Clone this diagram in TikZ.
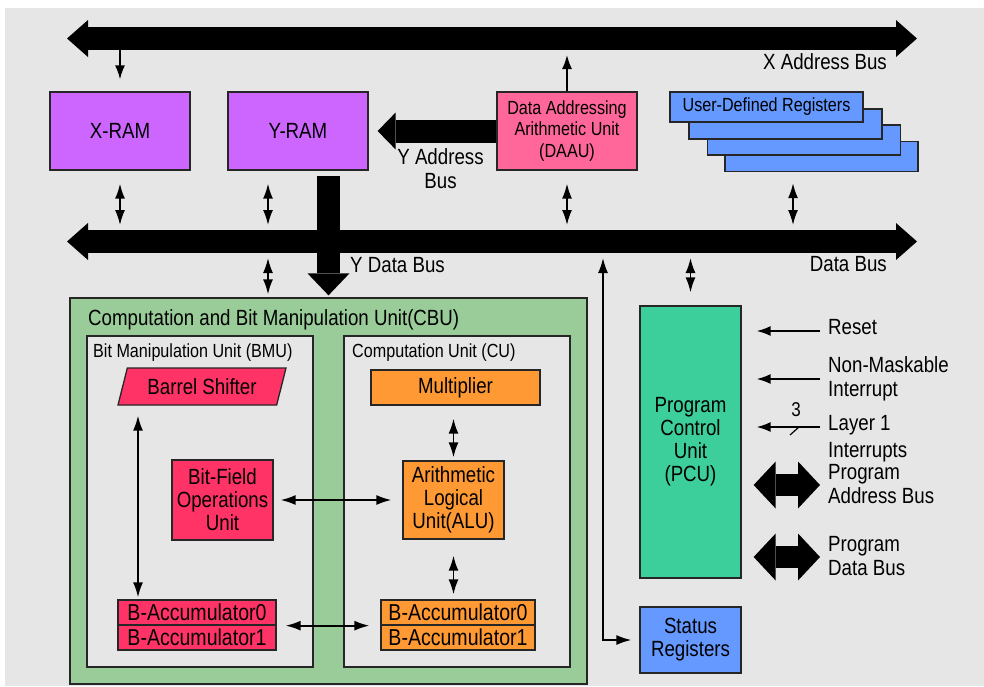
\documentclass[tikz,border=0pt]{standalone}
\usepackage{fontspec}
\setmainfont{Liberation Sans}[FakeStretch=0.85]
\usetikzlibrary{arrows.meta,shapes.geometric}

\definecolor{bgGray}{HTML}{E6E6E6}
\definecolor{ramViolet}{HTML}{CC66FF}
\definecolor{daauPink}{HTML}{FF6699}
\definecolor{regBlue}{HTML}{6699FF}
\definecolor{cbuGreen}{HTML}{99CC99}
\definecolor{bmuRed}{HTML}{FF3366}
\definecolor{cuOrange}{HTML}{FF9933}
\definecolor{pcuTeal}{HTML}{3CCF9C}

\tikzset{
    Unit/.style={
        draw=black!85,
        line width=1.3pt,
        align=center,
        inner sep=0pt,
        font=\fontsize{22}{23}\selectfont
    }
}
\tikzset{
    Bus/.style={
        line width=23pt,
        {Triangle[length=21pt,width=37pt,line width=0pt]}-{Triangle[length=21pt,width=37pt,line width=0pt]}
    },
    ProgBus/.style={
        line width=22pt,
        {Triangle[length=22pt,width=47pt,line width=0pt]}-{Triangle[length=22pt,width=47pt,line width=0pt]}
    },
    FatArrow/.style={
        line width=23pt,
        -{Triangle[length=22pt,width=42pt,line width=0pt]}
    }
}
\tikzset{
    Link/.style={line width=1.7pt, {Latex[length=15pt,width=10pt]}-{Latex[length=15pt,width=10pt]}},
    OneWay/.style={line width=1.7pt, -{Latex[length=14pt,width=10pt]}},
    Caption/.style={inner sep=0pt, align=left, font=\fontsize{22}{24}\selectfont}
}
\newcommand{\drawUnit}[4]{\node[Unit, #1] (#2) at #3 {#4}}

\begin{document}
\begin{tikzpicture}[x=1pt,y=-1pt]

    \useasboundingbox (0,0) rectangle (984,686);
    \fill[bgGray] (5,8) rectangle (984,686);

    % the two long buses
    \coordinate (XBusW) at (67,38.5);
    \coordinate (XBusE) at (917,38.5);
    \coordinate (DBusW) at (67,241.5);
    \coordinate (DBusE) at (917,241.5);

    \draw[Bus] (XBusW) -- (XBusE);
    \draw[Bus] (DBusW) -- (DBusE);

    \node[Caption, anchor=east] (XBusLbl) at (887,62) {X Address Bus};
    \node[Caption, anchor=east] (DBusLbl) at (887,264) {Data Bus};
    \node[Caption, anchor=west] (YDataLbl) at (350,265) {Y Data Bus};

    % top row
    \drawUnit{fill=ramViolet, minimum width=140pt, minimum height=78pt}{XRam}{(120,131)}{X-RAM};
    \drawUnit{fill=ramViolet, minimum width=140pt, minimum height=78pt}{YRam}{(298,131)}{Y-RAM};
    \drawUnit{fill=daauPink, minimum width=140pt, minimum height=78pt,
        font=\fontsize{19}{21.5}\selectfont}{Daau}{(567,131)}{Data Addressing\\Arithmetic Unit\\(DAAU)};

    \foreach \i/\x/\y in {4/821.5/156.5, 3/804/140, 2/785.5/124}
        \drawUnit{fill=regBlue, minimum width=193pt, minimum height=30pt}{Udr\i}{(\x,\y)}{};
    \drawUnit{fill=regBlue, minimum width=193pt, minimum height=30pt,
        font=\fontsize{19}{21}\selectfont}{Udr1}{(766.5,107)}{User-Defined Registers};

    \draw[OneWay, shorten >=12pt] (XRam.north |- XBusW) -- (XRam.north);
    \draw[OneWay, shorten >=16.5pt] (Daau.north) -- (Daau.north |- XBusW);

    \draw[FatArrow, -{Triangle[length=18pt,width=37pt,line width=0pt]}, shorten >=9pt] (Daau.west) -- (YRam.east);
    \node[Caption, align=center] (YAddrLbl) at (440.5,168.5) {Y Address\\Bus};

    \draw[Link, shorten <=13pt, shorten >=16.5pt] (XRam.south) -- (XRam.south |- DBusW);
    \draw[Link, shorten <=13pt, shorten >=16.5pt] (268,0 |- YRam.south) -- (268,0 |- DBusW);
    \draw[Link, shorten <=13pt, shorten >=16.5pt] (Daau.south) -- (Daau.south |- DBusW);
    \draw[Link, shorten <=11pt, shorten >=16.5pt] (793,0 |- Udr4.south) -- (793,0 |- DBusW);

    % CBU
    \drawUnit{fill=cbuGreen, minimum width=517pt, minimum height=386pt}{Cbu}{(328.5,491)}{};
    \node[Caption, anchor=west] (CbuTitle) at (88,320) {Computation and Bit Manipulation Unit(CBU)};

    \drawUnit{fill=bgGray, minimum width=226pt, minimum height=331pt}{Bmu}{(200,501.5)}{};
    \node[Caption, anchor=west, font=\fontsize{19}{21}\selectfont] (BmuTitle) at (93,353) {Bit Manipulation Unit (BMU)};
    \drawUnit{fill=bgGray, minimum width=226pt, minimum height=331pt}{Cu}{(457,501.5)}{};
    \node[Caption, anchor=west, font=\fontsize{19}{21}\selectfont] (CuTitle) at (352,353) {Computation Unit (CU)};

    \drawUnit{fill=bmuRed, trapezium, trapezium left angle=60, trapezium right angle=120,
        trapezium stretches body, minimum width=168pt, minimum height=37pt}{Barrel}{(202,386.5)}{Barrel Shifter};
    \drawUnit{fill=cuOrange, minimum width=169pt, minimum height=35pt}{Mult}{(455.5,387.5)}{Multiplier};

    \drawUnit{fill=bmuRed, minimum width=101pt, minimum height=80pt}{BitField}{(222.5,500)}{Bit-Field\\Operations\\Unit};
    \drawUnit{fill=cuOrange, minimum width=101pt, minimum height=78pt}{Alu}{(453.5,500)}{Arithmetic\\Logical\\Unit(ALU)};

    \drawUnit{fill=bmuRed, minimum width=158pt, minimum height=25pt, font=\fontsize{23}{23}\selectfont}{AccL0}{(197,612.5)}{B-Accumulator0};
    \drawUnit{fill=bmuRed, minimum width=158pt, minimum height=25pt, font=\fontsize{23}{23}\selectfont}{AccL1}{(197,637.5)}{B-Accumulator1};
    \drawUnit{fill=cuOrange, minimum width=154pt, minimum height=25pt, font=\fontsize{23}{23}\selectfont}{AccR0}{(458,612.5)}{B-Accumulator0};
    \drawUnit{fill=cuOrange, minimum width=154pt, minimum height=25pt, font=\fontsize{23}{23}\selectfont}{AccR1}{(458,637.5)}{B-Accumulator1};

    \draw[Link, shorten <=10pt, shorten >=2pt] (138,0 |- Barrel.south) -- (138,0 |- AccL0.north);
    \draw[Link, shorten <=7pt, shorten >=11pt] (BitField.east) -- (Alu.west);
    \draw[Link, shorten <=13pt, shorten >=3pt] (Alu.north |- Mult.south) -- (Alu.north);
    \draw[Link, shorten <=16pt, shorten >=5pt] (Alu.south) -- (Alu.south |- AccR0.north);
    \draw[Link, shorten <=9pt, shorten >=11pt] (AccL0.south east) -- (AccR0.south west);

    % Y-RAM into the CBU
    \draw[FatArrow, shorten <=5pt, shorten >=2pt] (328.5,0 |- YRam.south) -- (328.5,0 |- Cbu.north);
    \draw[Link, shorten <=16.5pt, shorten >=3pt] (268,0 |- DBusW) -- (268,0 |- Cbu.north);

    % PCU side
    \drawUnit{fill=pcuTeal, minimum width=101pt, minimum height=272pt}{Pcu}{(690.5,442)}{Program\\Control\\Unit\\(PCU)};
    \drawUnit{fill=regBlue, minimum width=101pt, minimum height=66pt}{Status}{(690.5,640)}{Status\\Registers};

    \draw[Link, shorten <=16.5pt, shorten >=13pt] (Pcu.north |- DBusW) -- (Pcu.north);
    \draw[Link, shorten <=16.5pt, shorten >=8pt] (603,0 |- DBusW) |- (Status.west);

    \coordinate (ResetIn) at (820,331);
    \coordinate (NmiIn) at (820,379);
    \coordinate (LayerIn) at (820,427);
    \coordinate (PabIn) at (820,485);
    \coordinate (PdbIn) at (820,557);

    \draw[OneWay, shorten >=15pt] (ResetIn) -- (ResetIn -| Pcu.east);
    \draw[OneWay, shorten >=15pt] (NmiIn) -- (NmiIn -| Pcu.east);
    \draw[OneWay, shorten >=15pt] (LayerIn) -- (LayerIn -| Pcu.east);
    \draw[line width=1.2pt] (790,435) -- (799,427);
    \node[inner sep=0pt, font=\fontsize{20}{20}\selectfont] (LayerWidth) at (796,410) {3};
    \draw[ProgBus, shorten >=12pt] (PabIn) -- (PabIn -| Pcu.east);
    \draw[ProgBus, shorten >=12pt] (PdbIn) -- (PdbIn -| Pcu.east);

    \node[Caption, anchor=west] (ResetLbl) at (828,327) {Reset};
    \node[Caption, anchor=west] (NmiLbl) at (828,378.5) {Non-Maskable\\Interrupt};
    \node[Caption, anchor=west] (LayerLbl) at (828,438.5) {Layer 1\\[3pt]Interrupts};
    \node[Caption, anchor=west] (PabLbl) at (828,484.5) {Program\\Address Bus};
    \node[Caption, anchor=west] (PdbLbl) at (828,556) {Program\\Data Bus};

\end{tikzpicture}
\end{document}
